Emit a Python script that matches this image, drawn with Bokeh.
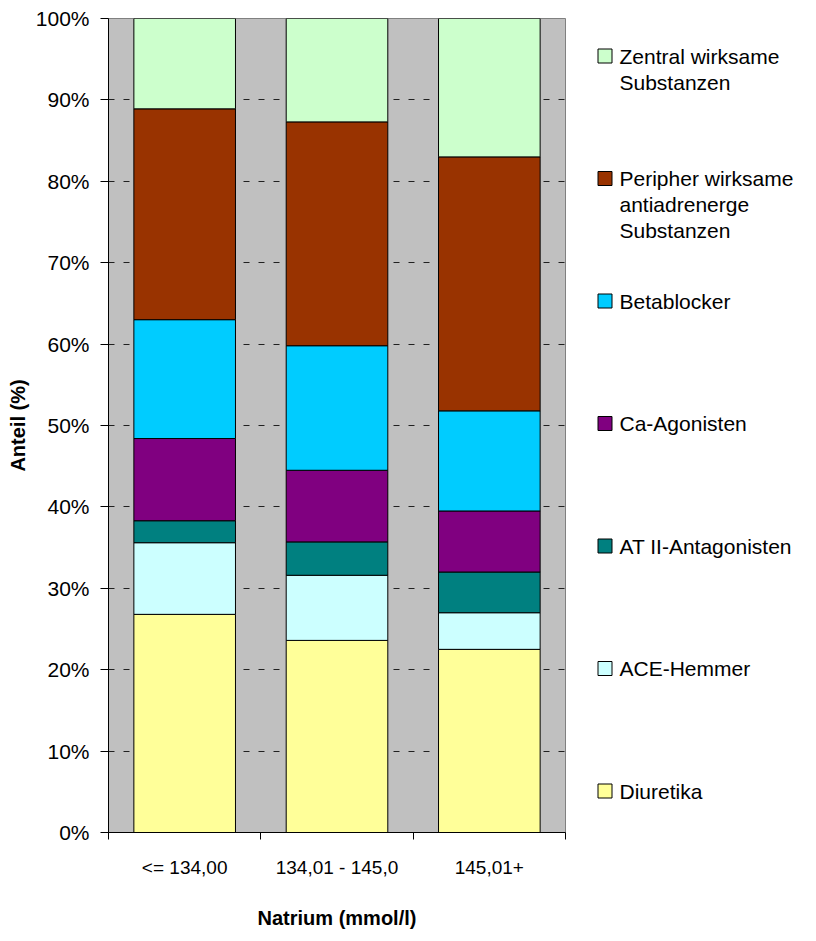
from bokeh.plotting import figure
from bokeh.layouts import row
from bokeh.models import Range1d, FixedTicker, PrintfTickFormatter, ColumnDataSource
from bokeh.core.properties import value
from bokeh.embed import file_html
from bokeh.resources import INLINE

# Natrium classes on the x axis
categories = ["<= 134,00", "134,01 - 145,0", "145,01+"]

# share of each substance group per class (%), bottom to top
diuretika = [26.8, 23.6, 22.5]
ace_hemmer = [8.8, 8.0, 4.5]
at2_antagonisten = [2.7, 4.1, 5.0]
ca_agonisten = [10.1, 8.8, 7.5]
betablocker = [14.6, 15.3, 12.3]
peripher = [25.9, 27.5, 31.2]
zentral = [11.1, 12.7, 17.0]

series_names = ["Diuretika", "ACE-Hemmer", "AT II-Antagonisten", "Ca-Agonisten",
                "Betablocker", "Peripher wirksame\nantiadrenerge\nSubstanzen",
                "Zentral wirksame\nSubstanzen"]
series_values = [diuretika, ace_hemmer, at2_antagonisten, ca_agonisten,
                 betablocker, peripher, zentral]
colors = ["#FFFF99", "#CCFFFF", "#008080", "#800080", "#00CCFF", "#993300", "#CCFFCC"]

y_ticks = [0, 10, 20, 30, 40, 50, 60, 70, 80, 90, 100]

FONT = "Liberation Sans"

keys = [f"s{i}" for i in range(len(series_values))]
data = {"x": [i + 0.5 for i in range(len(categories))]}
for k, v in zip(keys, series_values):
    data[k] = v
source = ColumnDataSource(data)

p = figure(width=566, height=941, x_range=Range1d(0, len(categories)),
           y_range=Range1d(0, 100), output_backend="svg", toolbar_location=None,
           min_border_left=108, min_border_right=1, min_border_top=18,
           min_border_bottom=109)
p.background_fill_color = "#C0C0C0"
p.border_fill_color = "white"
p.outline_line_color = "#808080"

p.vbar_stack(keys, x="x", width=0.667, source=source, color=colors,
             line_color="black", line_width=1)

# y axis
p.yaxis.ticker = FixedTicker(ticks=y_ticks)
p.yaxis.formatter = PrintfTickFormatter(format="%d%%")
p.yaxis.major_tick_out = 8
p.yaxis.major_tick_in = 0
p.yaxis.minor_tick_out = 0
p.yaxis.minor_tick_in = 0
p.yaxis.major_label_standoff = 11
p.yaxis.major_label_text_font = FONT
p.yaxis.major_label_text_font_size = "21px"
p.yaxis.major_label_text_color = "black"
p.yaxis.axis_label = "Anteil (%)"
p.yaxis.axis_label_text_font = FONT
p.yaxis.axis_label_text_font_style = "bold"
p.yaxis.axis_label_text_font_size = "20px"
p.yaxis.axis_label_text_color = "black"
p.yaxis.axis_label_standoff = 4
p.yaxis.axis_line_color = "black"
p.yaxis.major_tick_line_color = "black"

# x axis: labels centred under the bars, ticks between the classes
centers = [i + 0.5 for i in range(len(categories))]
p.xaxis.ticker = FixedTicker(ticks=centers,
                             minor_ticks=list(range(len(categories) + 1)))
p.xaxis.major_label_overrides = {c: lab for c, lab in zip(centers, categories)}
p.xaxis.major_tick_out = 0
p.xaxis.major_tick_in = 0
p.xaxis.minor_tick_out = 7
p.xaxis.minor_tick_in = 0
p.xaxis.minor_tick_line_color = "black"
p.xaxis.major_label_standoff = 17
p.xaxis.major_label_text_font = FONT
p.xaxis.major_label_text_font_size = "19px"
p.xaxis.major_label_text_color = "black"
p.xaxis.axis_label = "Natrium (mmol/l)"
p.xaxis.axis_label_text_font = FONT
p.xaxis.axis_label_text_font_style = "bold"
p.xaxis.axis_label_text_font_size = "20px"
p.xaxis.axis_label_text_color = "black"
p.xaxis.axis_label_standoff = 26
p.xaxis.axis_line_color = "black"

p.xgrid.grid_line_color = None
p.ygrid.ticker = FixedTicker(ticks=y_ticks)
p.ygrid.grid_line_color = "#202020"
p.ygrid.grid_line_dash = "6 9"
p.ygrid.grid_line_width = 1

# legend panel; its frame is aligned with the plot frame (page y 18..832),
# so the y range maps one unit to one page pixel
leg = figure(width=250, height=941, x_range=Range1d(0, 250), y_range=Range1d(832, 18),
             output_backend="svg", toolbar_location=None, x_axis_type=None,
             y_axis_type=None, min_border=0)
leg.outline_line_color = None
leg.grid.visible = False
leg.background_fill_color = "white"
leg.border_fill_color = "white"

first_y, step, line_h = 55.5, 122.5, 26
box_x, text_x = 38.5, 53
bx, by, bc, tx, ty, tt = [], [], [], [], [], []
for i, (name, col) in enumerate(zip(series_names[::-1], colors[::-1])):
    yc = first_y + step * i
    bx.append(box_x)
    by.append(yc)
    bc.append(col)
    for j, line in enumerate(name.split("\n")):
        tx.append(text_x)
        ty.append(yc + j * line_h)
        tt.append(line)

leg.rect(x=bx, y=by, width=14, height=14, fill_color=bc, line_color="black",
         line_width=1)
leg.text(x=tx, y=ty, text=tt, text_font=value(FONT), text_font_size="21px",
         text_baseline="middle", text_align="left", text_color="black")

layout = row(p, leg)
open("out.html", "w").write(file_html(layout, INLINE))
